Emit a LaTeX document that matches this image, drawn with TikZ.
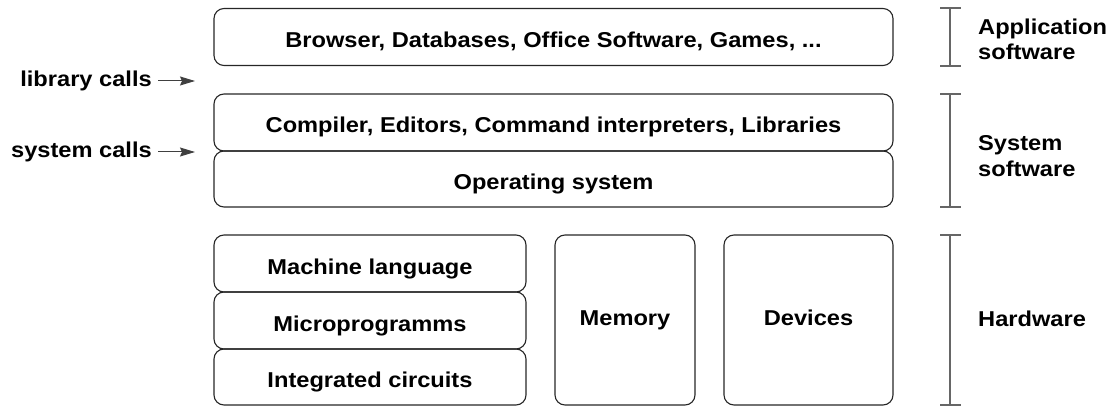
\documentclass[tikz,border=0pt]{standalone}
\usepackage{fontspec}
\setmainfont[FakeStretch=1.1]{Liberation Sans}
\usetikzlibrary{arrows.meta}
\begin{document}
\begin{tikzpicture}[x=1pt,y=-1pt,
  layer/.style={draw=black!85, line width=1.1pt, rounded corners=10pt, inner sep=0pt,
    text height=21pt, text depth=0pt,
    font=\fontsize{21.5}{25.5}\selectfont\bfseries},
  tall/.style={text height=10pt, text depth=0pt},
  lbl/.style={inner sep=0pt, font=\fontsize{21.5}{25.5}\selectfont\bfseries},
  rlbl/.style={lbl, anchor=west, align=left},
  arr/.style={-{Stealth[length=15pt,width=9pt,inset=2pt]}, line width=1pt, draw=black!75, fill=black},
  brk/.style={draw=black!60, line width=1.1pt}]
\useasboundingbox (0,0) rectangle (1111,406);
% software layers
\node[layer, minimum width=679pt, minimum height=57pt] (app) at (553.5,37) {Browser, Databases, Office Software, Games, ...};
\node[layer, minimum width=679pt, minimum height=57pt] (comp) at (553.5,122.5) {Compiler, Editors, Command interpreters, Libraries};
\node[layer, minimum width=679pt, minimum height=56pt] (os) at (553.5,179) {Operating system};
% hardware
\node[layer, minimum width=312pt, minimum height=57pt] (ml) at (370,263.5) {Machine language};
\node[layer, minimum width=312pt, minimum height=57pt] (mp) at (370,320.5) {Microprogramms};
\node[layer, minimum width=312pt, minimum height=56pt] (ic) at (370,377) {Integrated circuits};
\node[layer, tall, minimum width=140pt, minimum height=170pt] (mem) at (625,320) {Memory};
\node[layer, tall, minimum width=169pt, minimum height=170pt] (dev) at (808.5,320) {Devices};
% left labels and arrows
\node[lbl, anchor=east] (lib) at (152,81) {library calls};
\node[lbl, anchor=east] (sys) at (152,152) {system calls};
\coordinate (libend) at (195,81);
\coordinate (sysend) at (195,152);
\draw[arr, shorten <=6pt] (lib.east) -- (libend);
\draw[arr, shorten <=6pt] (sys.east) -- (sysend);
% brackets
\draw[brk] (950,8) -- (950,66) (940,8) -- (961,8) (940,66) -- (961,66);
\draw[brk] (950,94) -- (950,207) (940,94) -- (961,94) (940,207) -- (961,207);
\draw[brk] (950,235) -- (950,405) (940,235) -- (961,235) (940,405) -- (961,405);
% right labels
\node[rlbl] (lapp) at (978,39.5) {Application\\software};
\node[rlbl] (lsys) at (978,156) {System\\software};
\node[rlbl] (lhw) at (978,319) {Hardware};
\end{tikzpicture}
\end{document}
